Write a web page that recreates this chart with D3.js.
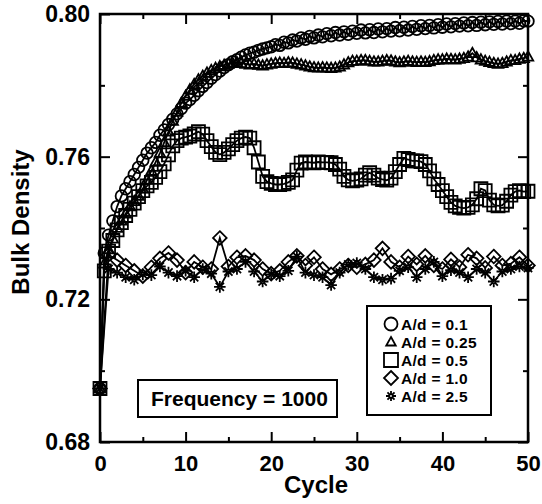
<!DOCTYPE html>
<html>
<head>
<meta charset="utf-8">
<script src="https://cdn.jsdelivr.net/npm/d3@7"></script>
<style>
  body { margin: 0; background: #fff; }
  text { font-family: "Liberation Sans", Arial, sans-serif; font-weight: bold; fill: #000; }
</style>
</head>
<body>
<svg id="chart" width="542" height="504"></svg>
<script>
const cyclesHalf = d3.range(0, 50.5, 0.5);
const cyclesWhole = d3.range(0, 51, 1);

const ad01 = [
  0.695, 0.733, 0.738, 0.742, 0.746, 0.749, 0.751, 0.753, 0.755, 0.757,
  0.759, 0.761, 0.7625, 0.764, 0.766, 0.7675, 0.769, 0.7705, 0.772, 0.7735,
  0.775, 0.776, 0.7772, 0.7785, 0.7797, 0.7808, 0.782, 0.783, 0.784, 0.785,
  0.7858, 0.7866, 0.7872, 0.7879, 0.7885, 0.789, 0.7893, 0.7898, 0.7902, 0.7905,
  0.7908, 0.7914, 0.7912, 0.7921, 0.7919, 0.7927, 0.7924, 0.7933, 0.7929, 0.7937,
  0.7933, 0.7941, 0.7936, 0.7945, 0.7939, 0.7948, 0.7941, 0.795, 0.7943, 0.7952,
  0.7946, 0.7955, 0.7947, 0.7956, 0.7948, 0.7958, 0.795, 0.7959, 0.7952, 0.7962,
  0.7953, 0.7963, 0.7955, 0.7965, 0.7957, 0.7967, 0.7959, 0.7968, 0.7961, 0.797,
  0.7963, 0.7972, 0.7964, 0.7973, 0.7966, 0.7975, 0.7967, 0.7976, 0.7968, 0.7977,
  0.797, 0.7978, 0.7971, 0.7979, 0.7972, 0.798, 0.7973, 0.798, 0.7974, 0.7981,
  0.798,
];

const ad025 = [
  0.695, 0.730, 0.734, 0.737, 0.740, 0.742, 0.744, 0.746, 0.7475, 0.749,
  0.751, 0.7535, 0.756, 0.7585, 0.761, 0.764, 0.767, 0.770, 0.7725, 0.775,
  0.777, 0.7788, 0.7803, 0.7816, 0.7826, 0.7835, 0.7842, 0.7848, 0.7853, 0.7857,
  0.786, 0.7862, 0.7864, 0.7862, 0.786, 0.7858, 0.786, 0.7857, 0.7855, 0.7858,
  0.786, 0.7862, 0.7863, 0.7862, 0.7864, 0.7863, 0.786, 0.7858, 0.7855, 0.7852,
  0.785, 0.7849, 0.785, 0.7849, 0.7848, 0.7849, 0.7852, 0.7858, 0.7864, 0.7868,
  0.7868, 0.787, 0.787, 0.7868, 0.7866, 0.7866, 0.7868, 0.787, 0.7869, 0.7866,
  0.7864, 0.7866, 0.7868, 0.7866, 0.7865, 0.7866, 0.7865, 0.7867, 0.787, 0.7872,
  0.7872, 0.7874, 0.7873, 0.7872, 0.7874, 0.7876, 0.788, 0.789, 0.7878, 0.7872,
  0.7868, 0.7865, 0.7862, 0.786, 0.7862, 0.7866, 0.787, 0.787, 0.7874, 0.7876,
  0.788,
];

const ad05 = [
  0.695, 0.728, 0.7335, 0.7365, 0.7395, 0.7415, 0.7435, 0.7452, 0.747, 0.7488,
  0.7505, 0.7518, 0.7528, 0.7542, 0.7558, 0.758, 0.7605, 0.763, 0.7645, 0.7652,
  0.7655, 0.7658, 0.7664, 0.767, 0.7663, 0.7645, 0.7628, 0.7612, 0.7606, 0.7612,
  0.7622, 0.7634, 0.7645, 0.7652, 0.7655, 0.7652, 0.7625, 0.7585, 0.7545, 0.753,
  0.7525, 0.7522, 0.7522, 0.7524, 0.7528, 0.7535, 0.7562, 0.7582, 0.7585, 0.7584,
  0.7583, 0.7585, 0.7584, 0.7584, 0.7583, 0.7578, 0.7565, 0.7545, 0.7535, 0.7532,
  0.7534, 0.7538, 0.7548, 0.7555, 0.7548, 0.754, 0.7536, 0.7534, 0.754, 0.7558,
  0.7578, 0.7595, 0.7592, 0.7588, 0.7588, 0.7586, 0.7578, 0.756, 0.7538, 0.7522,
  0.7505, 0.7488, 0.7472, 0.7462, 0.7458, 0.7456, 0.7458, 0.7465, 0.7482, 0.751,
  0.7505, 0.7478, 0.7465, 0.7462, 0.7464, 0.7475, 0.7492, 0.7502, 0.7505, 0.7502,
  0.7503,
];

const ad10 = [
  0.695, 0.7325, 0.731, 0.7295, 0.728, 0.7265, 0.729, 0.7315, 0.733, 0.731,
  0.7275, 0.7305, 0.729, 0.7285, 0.7372, 0.7292, 0.7318, 0.7322, 0.731, 0.7285,
  0.7272, 0.728, 0.7305, 0.7322, 0.7295, 0.7318, 0.7285, 0.727, 0.7285, 0.7295,
  0.729, 0.7298, 0.731, 0.7343, 0.7305, 0.729, 0.732, 0.7298, 0.7322, 0.7295,
  0.7285, 0.7312, 0.729, 0.7325, 0.7315, 0.7288, 0.732, 0.7295, 0.73, 0.7318,
  0.7295,
];

const ad25 = [
  0.695, 0.7285, 0.7275, 0.7262, 0.7255, 0.727, 0.7268, 0.7292, 0.7275, 0.7265,
  0.728, 0.7262, 0.7285, 0.7272, 0.7235, 0.7278, 0.7285, 0.7305, 0.7278, 0.725,
  0.727, 0.7265, 0.728, 0.732, 0.7275, 0.7268, 0.7262, 0.724, 0.7275, 0.7298,
  0.7302, 0.7285, 0.7262, 0.7255, 0.7258, 0.728, 0.729, 0.7262, 0.7285, 0.7305,
  0.7265, 0.7282, 0.7275, 0.7262, 0.7285, 0.7275, 0.725, 0.7278, 0.7285, 0.7292,
  0.7288,
];

const legendLabels = ['A/d = 0.1', 'A/d = 0.25', 'A/d = 0.5', 'A/d = 1.0', 'A/d = 2.5'];
const xTicks = [0, 10, 20, 30, 40, 50];
const yTicks = [0.68, 0.72, 0.76, 0.80];

const width = 542;
const height = 504;
const margin = { top: 14, right: 14, bottom: 62, left: 100 };

const svg = d3.select('#chart');

const x = d3.scaleLinear().domain([0, 50]).range([margin.left, width - margin.right]);
const y = d3.scaleLinear().domain([0.68, 0.80]).range([height - margin.bottom, margin.top]);

// marker shapes, centred on 0,0
const shapes = {
  circle: (s) => d3.arc()({ innerRadius: 0, outerRadius: s, startAngle: 0, endAngle: 2 * Math.PI }),
  triangle: (s) => `M0,${-s}L${s * 0.95},${s * 0.7}L${-s * 0.95},${s * 0.7}Z`,
  square: (s) => `M${-s},${-s}H${s}V${s}H${-s}Z`,
  diamond: (s) => `M0,${-s}L${s},0L0,${s}L${-s},0Z`,
  star: (s) => d3.range(8).map((i) => {
    const a = (i * Math.PI) / 4;
    return `M${Math.cos(a) * 1.5},${Math.sin(a) * 1.5}L${Math.cos(a) * s},${Math.sin(a) * s}`;
  }).join('') + d3.arc()({ innerRadius: 0, outerRadius: 1.8, startAngle: 0, endAngle: 2 * Math.PI }),
};

const series = [
  { cycles: cyclesHalf, values: ad01, shape: 'circle', size: 5.8 },
  { cycles: cyclesHalf, values: ad025, shape: 'triangle', size: 5.5 },
  { cycles: cyclesHalf, values: ad05, shape: 'square', size: 6.5 },
  { cycles: cyclesWhole, values: ad10, shape: 'diamond', size: 6.8 },
  { cycles: cyclesWhole, values: ad25, shape: 'star', size: 5.8 },
];

const line = d3.line().x((d) => x(d[0])).y((d) => y(d[1]));

const plot = svg.append('g');
series.forEach((s) => {
  const pts = s.cycles.map((c, i) => [c, s.values[i]]);
  const g = plot.append('g');
  g.append('path')
    .attr('d', line(pts))
    .attr('fill', 'none')
    .attr('stroke', '#000')
    .attr('stroke-width', 1.8);
  g.selectAll('path.m')
    .data(pts)
    .join('path')
    .attr('class', 'm')
    .attr('d', shapes[s.shape](s.size))
    .attr('transform', (d) => `translate(${x(d[0])},${y(d[1])})`)
    .attr('fill', 'none')
    .attr('stroke', '#000')
    .attr('stroke-width', 1.8);
});

// axes with inward ticks on all four sides
const axisStyle = (g) => {
  g.select('.domain').remove();
  g.selectAll('line').attr('stroke', '#000').attr('stroke-width', 2);
};

const bottom = height - margin.bottom;
const right = width - margin.right;

svg.append('g')
  .attr('transform', `translate(0,${bottom})`)
  .call(d3.axisBottom(x).tickValues(xTicks).tickSize(-10).tickPadding(13).tickFormat(d3.format('d')))
  .call(axisStyle)
  .call((g) => g.selectAll('text').style('font-size', '22px').attr('font-family', null));

svg.append('g')
  .attr('transform', `translate(0,${bottom})`)
  .call(d3.axisBottom(x).tickValues(d3.range(5, 50, 10)).tickSize(-5).tickFormat(''))
  .call(axisStyle);

svg.append('g')
  .attr('transform', `translate(0,${margin.top})`)
  .call(d3.axisTop(x).tickValues(xTicks).tickSize(-10).tickFormat(''))
  .call(axisStyle);

svg.append('g')
  .attr('transform', `translate(0,${margin.top})`)
  .call(d3.axisTop(x).tickValues(d3.range(5, 50, 10)).tickSize(-5).tickFormat(''))
  .call(axisStyle);

svg.append('g')
  .attr('transform', `translate(${margin.left},0)`)
  .call(d3.axisLeft(y).tickValues(yTicks).tickSize(-10).tickPadding(10).tickFormat(d3.format('.2f')))
  .call(axisStyle)
  .call((g) => g.selectAll('text').style('font-size', '23px').attr('font-family', null));

svg.append('g')
  .attr('transform', `translate(${margin.left},0)`)
  .call(d3.axisLeft(y).tickValues([0.70, 0.74, 0.78]).tickSize(-5).tickFormat(''))
  .call(axisStyle);

svg.append('g')
  .attr('transform', `translate(${right},0)`)
  .call(d3.axisRight(y).tickValues(yTicks).tickSize(-10).tickFormat(''))
  .call(axisStyle);

svg.append('g')
  .attr('transform', `translate(${right},0)`)
  .call(d3.axisRight(y).tickValues([0.70, 0.74, 0.78]).tickSize(-5).tickFormat(''))
  .call(axisStyle);

svg.append('rect')
  .attr('x', margin.left)
  .attr('y', margin.top)
  .attr('width', right - margin.left)
  .attr('height', bottom - margin.top)
  .attr('fill', 'none')
  .attr('stroke', '#000')
  .attr('stroke-width', 2.5);

svg.append('text')
  .attr('x', (margin.left + right) / 2 + 2)
  .attr('y', 493)
  .attr('text-anchor', 'middle')
  .style('font-size', '24px')
  .text('Cycle');

svg.append('text')
  .attr('transform', `translate(29,${(margin.top + bottom) / 2 - 6}) rotate(-90)`)
  .attr('text-anchor', 'middle')
  .style('font-size', '24px')
  .text('Bulk Density');

// frequency box
svg.append('rect')
  .attr('x', 138).attr('y', 380).attr('width', 199).attr('height', 37)
  .attr('fill', '#fff').attr('stroke', '#000').attr('stroke-width', 2);
svg.append('text')
  .attr('x', 151).attr('y', 406)
  .style('font-size', '21px')
  .text('Frequency = 1000');

// legend
const legend = svg.append('g');
legend.append('rect')
  .attr('x', 367).attr('y', 306).attr('width', 124).attr('height', 109)
  .attr('fill', '#fff').attr('stroke', '#000').attr('stroke-width', 2);
const legendSizes = [6.5, 5, 7, 7, 5];
legend.selectAll('g.item')
  .data(series)
  .join('g')
  .attr('class', 'item')
  .attr('transform', (d, i) => `translate(391,${324 + i * 18})`)
  .each(function (d, i) {
    const g = d3.select(this);
    g.append('path')
      .attr('d', shapes[d.shape](legendSizes[i]))
      .attr('fill', 'none')
      .attr('stroke', '#000')
      .attr('stroke-width', 1.8);
    g.append('text')
      .attr('x', 10)
      .attr('y', 6)
      .style('font-size', '15.5px')
      .style('letter-spacing', '0.3px')
      .text(legendLabels[i]);
  });
</script>
</body>
</html>
